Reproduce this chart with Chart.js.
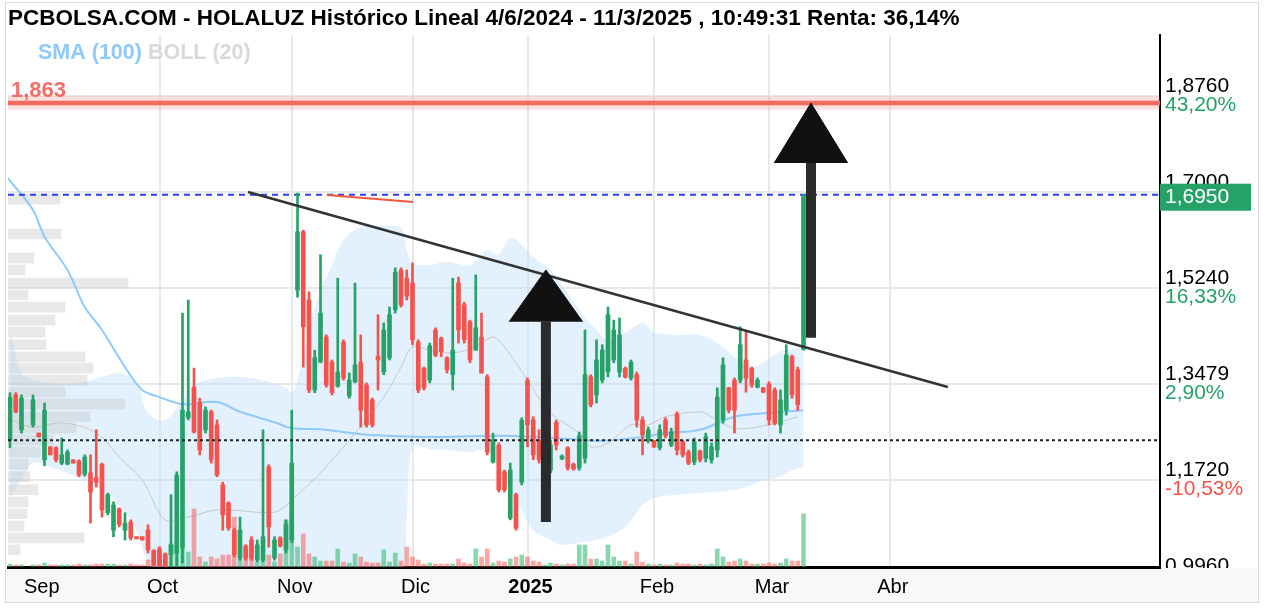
<!DOCTYPE html>
<html><head><meta charset="utf-8">
<script src="https://cdn.jsdelivr.net/npm/chart.js@4.4.1/dist/chart.umd.min.js"></script>
<style>html,body{margin:0;padding:0;background:#fff;}canvas{display:block;}</style>
</head><body>
<canvas id="c" width="1264" height="608"></canvas>
<script>
const FONT = '"Liberation Sans", Arial, Helvetica, sans-serif';
const UP = '#26a269', DOWN = '#f4524d';

const titleText = 'PCBOLSA.COM - HOLALUZ Histórico Lineal 4/6/2024 - 11/3/2025 , 10:49:31 Renta: 36,14%';
const legendText = ['SMA (100)', 'BOLL (20)'];
const monthPos = [5, 26, 49, 70, 90, 112, 132, 153];
const monthNames = ['Sep', 'Oct', 'Nov', 'Dic', '2025', 'Feb', 'Mar', 'Abr'];
const tickValues = [0.996, 1.172, 1.3479, 1.524, 1.700, 1.876];
const tickLabels = ['0,9960', '1,1720', '1,3479', '1,5240', '1,7000', '1,8760'];
const pctLabels = ['-23,97%', '-10,53%', '2,90%', '16,33%', '29,77%', '43,20%'];
const resistance = 1.863, resLabel = '1,863';
const blueLevel = 1.695;
const dotLevel = 1.245;
const lastLabel = '1,6950';

// trading-day index of each candle
const days = [0, 1, 2];
for (let d = 4; d <= 138; d++) days.push(d);

const open = [
1.245,1.328,1.264,1.273,1.258,1.209,1.233,1.231,1.203,1.201,
1.209,1.207,1.183,1.185,1.176,1.201,1.112,1.080,1.119,1.080,
1.095,1.068,1.068,1.080,1.042,1.044,1.035,1.035,1.038,1.049,
1.286,1.342,1.315,1.264,1.297,1.273,1.163,1.130,1.080,1.029,
1.049,1.062,1.025,1.025,1.196,1.029,1.066,1.044,1.062,1.520,
1.627,1.502,1.337,1.388,1.434,1.388,1.344,1.425,1.326,1.352,
1.388,1.346,1.319,1.399,1.370,1.396,1.484,1.557,1.542,1.533,
1.425,1.377,1.355,1.447,1.432,1.396,1.365,
1.533,
1.493,1.462,1.410,1.434,1.361,
1.205,1.236,1.187,1.102,1.145,1.168,1.355,1.282,1.245,
1.183,1.190,1.278,
1.211,1.231,1.201,1.194,1.212,1.361,1.328,1.355,1.370,1.392,
1.370,1.377,1.359,1.365,1.282,1.245,1.244,1.231,1.282,1.236,
1.293,1.242,1.223,1.205,1.225,1.212,1.209,1.227,
1.282,1.341,1.355,1.355,1.392,1.377,1.342,1.341,1.348,1.337,
1.273,1.300,1.398,1.374,1.412];
const high = [
1.332,1.332,1.328,1.328,1.258,1.313,1.233,1.233,1.249,1.227,
1.209,1.209,1.218,1.218,1.264,1.203,1.148,1.132,1.121,1.112,
1.099,1.068,1.068,1.090,1.044,1.049,1.038,1.145,1.187,1.478,
1.502,1.377,1.322,1.306,1.300,1.282,1.168,1.132,1.084,1.104,
1.053,1.068,1.062,1.264,1.200,1.068,1.068,1.099,1.300,1.698,
1.630,1.517,1.410,1.585,1.438,1.392,1.542,1.429,1.368,1.533,
1.438,1.350,1.322,1.475,1.460,1.489,1.561,1.561,1.557,1.570,
1.429,1.379,1.423,1.451,1.434,1.398,1.542,
1.544,
1.498,1.465,1.548,1.478,1.365,
1.258,1.240,1.190,1.203,1.148,1.286,1.359,1.288,1.264,
1.190,1.245,1.282,
1.218,1.233,1.203,1.260,1.447,1.365,1.429,1.420,1.489,1.465,
1.469,1.379,1.392,1.370,1.288,1.269,1.245,1.273,1.286,1.267,
1.297,1.245,1.227,1.249,1.227,1.258,1.240,1.341,
1.396,1.342,1.359,1.453,1.443,1.379,1.359,1.342,1.352,1.341,
1.337,1.420,1.401,1.379,1.695];
const low = [
1.231,1.295,1.258,1.269,1.251,1.198,1.218,1.205,1.200,1.200,
1.203,1.178,1.179,1.093,1.159,1.104,1.108,1.068,1.086,1.062,
1.062,1.064,1.062,1.038,1.007,1.007,1.007,1.013,1.013,1.020,
1.282,1.258,1.218,1.258,1.203,1.178,1.080,1.080,1.031,1.025,
1.025,1.025,1.022,1.022,1.049,1.025,1.049,1.038,1.057,1.507,
1.379,1.332,1.332,1.387,1.342,1.328,1.342,1.355,1.322,1.350,
1.269,1.269,1.269,1.337,1.365,1.392,1.478,1.489,1.502,1.420,
1.332,1.337,1.350,1.398,1.398,1.368,1.337,
1.423,
1.423,1.387,1.410,1.368,1.218,
1.203,1.150,1.150,1.099,1.080,1.163,1.233,1.209,1.203,
1.181,1.185,1.227,
1.209,1.190,1.190,1.190,1.203,1.306,1.313,1.350,1.361,1.387,
1.361,1.359,1.355,1.269,1.218,1.240,1.231,1.227,1.249,1.233,
1.218,1.214,1.200,1.200,1.205,1.205,1.203,1.214,
1.276,1.295,1.258,1.350,1.333,1.342,1.341,1.332,1.273,1.273,
1.258,1.291,1.322,1.300,1.410];
const close = [
1.324,1.297,1.322,1.319,1.251,1.300,1.218,1.209,1.218,1.223,
1.203,1.181,1.214,1.150,1.168,1.117,1.145,1.126,1.090,1.093,
1.066,1.064,1.062,1.044,1.016,1.011,1.011,1.053,1.181,1.300,
1.297,1.260,1.227,1.300,1.209,1.181,1.108,1.084,1.035,1.080,
1.029,1.029,1.053,1.068,1.086,1.062,1.051,1.090,1.203,1.627,
1.453,1.337,1.396,1.478,1.346,1.332,1.370,1.359,1.355,1.383,
1.300,1.273,1.273,1.392,1.447,1.475,1.553,1.493,1.509,1.429,
1.337,1.341,1.418,1.401,1.407,1.374,1.410,
1.447,
1.429,1.392,1.451,1.368,1.223,
1.245,1.154,1.154,1.190,1.084,1.282,1.273,1.218,1.209,
1.189,1.236,1.236,
1.216,1.194,1.192,1.253,1.365,1.310,1.392,1.410,1.475,1.447,
1.438,1.361,1.388,1.282,1.255,1.264,1.233,1.264,1.253,1.260,
1.227,1.218,1.203,1.242,1.209,1.251,1.233,1.324,
1.383,1.300,1.300,1.420,1.359,1.346,1.355,1.333,1.282,1.276,
1.319,1.401,1.328,1.310,1.695];
// volume (thousand shares)
const volume = [
12,8,8,8,8,16,8,8,8,8,
8,12,8,8,12,12,12,12,8,8,
12,8,8,28,68,80,56,92,100,100,
60,232,40,20,40,32,48,48,200,32,
88,88,20,32,48,20,52,188,212,80,
132,52,40,24,24,24,72,20,16,52,
40,20,16,16,68,20,56,24,80,40,
28,12,16,12,12,12,12,
32,
16,12,72,40,72,
16,24,20,32,40,48,40,24,20,
8,16,12,
8,12,12,88,88,32,32,24,88,40,
24,24,12,60,20,12,8,12,8,8,
16,12,12,8,12,8,12,72,
40,20,24,32,24,12,12,12,16,12,
16,32,24,24,212];

// Bollinger (20) samples
const bandIdx = [0,2,4,7,12,16,19,22,24,27,30,32,36,40,44,48,49,50,52,54,56,58,61,64,68,69,70,73,76,80,83,85,87,89,91,94,96,99,102,104,107,110,112,116,120,123,126,129,131,134,136,138];
const bollUpper = [1.447,1.368,1.355,1.350,1.350,1.361,1.368,1.350,1.295,1.282,1.319,1.346,1.359,1.361,1.355,1.341,1.332,1.355,1.447,1.520,1.566,1.612,1.636,1.638,1.634,1.594,1.570,1.566,1.572,1.566,1.594,1.585,1.616,1.603,1.581,1.557,1.530,1.484,1.447,1.429,1.442,1.460,1.443,1.438,1.438,1.423,1.398,1.379,1.388,1.407,1.412,1.414];
const bollLower = [1.141,1.172,1.203,1.196,1.176,1.154,1.126,1.080,1.020,0.989,0.961,0.943,0.934,0.930,0.934,0.943,0.947,0.952,0.956,0.961,0.967,0.970,0.974,0.980,0.998,1.099,1.233,1.229,1.227,1.223,1.227,1.190,1.154,1.117,1.080,1.062,1.053,1.057,1.062,1.068,1.086,1.126,1.139,1.145,1.148,1.150,1.154,1.163,1.172,1.178,1.190,1.196];
const midIdx = [0,4,9,15,19,23,27,31,36,45,47,50,54,59,65,68,70,73,77,81,84,86,90,94,99,101,104,108,111,114,120,122,126,132,137];
const bollMid = [1.282,1.269,1.277,1.258,1.214,1.172,1.099,1.104,1.117,1.112,1.117,1.145,1.185,1.245,1.324,1.379,1.416,1.410,1.405,1.416,1.434,1.416,1.355,1.295,1.258,1.233,1.240,1.273,1.273,1.288,1.297,1.288,1.267,1.273,1.288];
// SMA (100) samples
const smaIdx = [-0.35,4,6,10,13,16,20,23,26,30,36,40,46,49,54,62,74,85,91,97,103,110,114,120,126,132,138];
const sma100 = [1.725,1.667,1.618,1.557,1.489,1.447,1.379,1.337,1.324,1.311,1.315,1.297,1.278,1.267,1.265,1.255,1.251,1.253,1.251,1.247,1.244,1.251,1.258,1.264,1.288,1.295,1.300];
// volume at price profile
const profPrice = [1.687,1.623,1.579,1.557,1.533,1.511,1.489,1.465,1.443,1.420,1.398,1.377,1.355,1.333,1.311,1.288,1.267,1.245,1.223,1.201,1.178,1.154,1.132,1.110,1.088,1.066,1.044];
const profVol = [52,53,26,17,120,20,57,47,37,38,77,85,79,57,117,82,68,45,32,20,22,30,20,19,16,76,12];
// drawn lines / arrows (index, price)
const trendLine = [[41.4, 1.700], [163.1, 1.3425]];
const redSegment = [[55.1, 1.6945], [70.1, 1.6817]];
const arrowX = [93.2, 139.3];
const arrowFrom = [1.095, 1.433];
const arrowHeadBase = [1.462, 1.753];
const arrowTip = [1.557, 1.863];

const X_MIN = -0.348, X_MAX = 200;
const HEAD_HALF = 6.4;

const isUp = close.map((c, i) => c >= open[i]);
const cColor = isUp.map(u => u ? UP : DOWN);
const vColor = isUp.map(u => u ? 'rgba(46,180,110,0.55)' : 'rgba(244,82,77,0.5)');
const pts = (xs, ys) => xs.map((x, i) => ({x, y: ys[i]}));
const hline = v => [{x: X_MIN, y: v}, {x: X_MAX, y: v}];
const seg = s => s.map(p => ({x: p[0], y: p[1]}));

const datasets = [
  {type:'line', data: pts(bandIdx, bollUpper), borderWidth:0, borderColor:'rgba(0,0,0,0)', pointRadius:0, tension:0.35, fill:'+1', backgroundColor:'rgba(190,224,250,0.45)', order:20},
  {type:'line', data: pts(bandIdx, bollLower), borderWidth:0, borderColor:'rgba(0,0,0,0)', pointRadius:0, tension:0.35, fill:false, order:20},
  {type:'bar', indexAxis:'y', xAxisID:'xp', yAxisID:'y', data: profPrice.map((p, i) => ({y: p, x: profVol[i]})), backgroundColor:'rgba(200,200,200,0.42)', barThickness:10, grouped:false, order:19},
  {type:'line', data: pts(midIdx, bollMid), borderColor:'rgba(195,185,175,0.75)', borderWidth:1, pointRadius:0, tension:0.35, fill:false, order:18},
  {type:'line', data: pts(smaIdx, sma100), borderColor:'#90caf9', borderWidth:2, pointRadius:0, tension:0.35, fill:false, order:17},
  {type:'bar', xAxisID:'x', yAxisID:'yv', data: pts(days, volume), backgroundColor: vColor, barThickness:4, grouped:false, order:16},
  {type:'line', data: hline(blueLevel), borderColor:'#2b3df0', borderWidth:2, borderDash:[6,5], pointRadius:0, fill:false, order:15},
  {type:'bar', data: days.map((x, i) => ({x, y:[low[i], high[i]]})), backgroundColor: cColor, barThickness:2, grouped:false, order:12},
  {type:'bar', data: days.map((x, i) => ({x, y:[open[i], close[i]]})), backgroundColor: cColor, barThickness:4, minBarLength:1.5, grouped:false, order:11},
  {type:'line', data: hline(dotLevel), borderColor:'#222', borderWidth:2, borderDash:[3,3], pointRadius:0, fill:false, order:6},
  {type:'line', data: seg(trendLine), borderColor:'#333', borderWidth:2.5, pointRadius:0, fill:false, order:5},
  {type:'line', data: seg(redSegment), borderColor:'#f0583c', borderWidth:2, pointRadius:0, fill:false, order:5},
  {type:'line', data: hline(resistance), borderColor:'rgba(242,107,97,0.22)', borderWidth:13, pointRadius:0, fill:false, order:4},
  {type:'line', data: hline(resistance), borderColor:'#f26b61', borderWidth:4.5, pointRadius:0, fill:false, order:4}
];
arrowX.forEach((ax, k) => {
  datasets.push({type:'line', data:[{x:ax, y:arrowFrom[k]}, {x:ax, y:arrowHeadBase[k]}], borderColor:'#2b2b2b', borderWidth:10, borderCapStyle:'butt', pointRadius:0, fill:false, order:2});
  datasets.push({type:'line', data:[{x:ax-HEAD_HALF, y:arrowHeadBase[k]}, {x:ax, y:arrowTip[k]}, {x:ax+HEAD_HALF, y:arrowHeadBase[k]}], borderColor:'#111', borderWidth:1, pointRadius:0, tension:0, fill:{value: arrowHeadBase[k]}, backgroundColor:'#111', order:1});
});

const deco = {
  id: 'deco',
  beforeDraw(chart) {
    const c = chart.ctx;
    c.save();
    c.fillStyle = '#fff'; c.fillRect(0, 0, chart.width, chart.height);
    c.fillStyle = '#f8f8f8'; c.fillRect(5, 568, 1254, 35);
    c.restore();
  },
  afterDatasetsDraw(chart) {
    const c = chart.ctx, y = chart.scales.y, a = chart.chartArea;
    c.save();
    c.textBaseline = 'middle'; c.textAlign = 'left';
    c.font = 'bold 22px ' + FONT;
    c.fillStyle = 'rgba(240,95,85,0.9)';
    c.fillText(resLabel, a.left + 3, y.getPixelForValue(resistance) - 12);
    c.font = 'bold 21.5px ' + FONT;
    c.fillStyle = '#90caf9';
    c.fillText(legendText[0], 38, 53);
    const w = c.measureText(legendText[0] + ' ').width;
    c.fillStyle = '#d9d9d9';
    c.fillText(legendText[1], 38 + w, 53);
    c.restore();
  },
  afterDraw(chart) {
    const c = chart.ctx, y = chart.scales.y, a = chart.chartArea;
    c.save();
    c.textBaseline = 'middle'; c.textAlign = 'left';
    c.font = '21px ' + FONT;
    tickValues.forEach((v, i) => {
      c.fillStyle = pctLabels[i].startsWith('-') ? DOWN : UP;
      c.fillText(pctLabels[i], a.right + 5, y.getPixelForValue(v) + 9);
    });
    c.fillStyle = '#f8f8f8'; c.fillRect(a.right + 2, 568, 1259 - a.right - 2, 35);
    const py = y.getPixelForValue(blueLevel);
    c.fillStyle = '#26a269'; c.fillRect(a.right, py - 11, 91, 27);
    c.fillStyle = '#fff'; c.fillText(lastLabel, a.right + 5, py + 2);
    c.fillStyle = '#000'; c.font = 'bold 22.5px ' + FONT;
    c.fillText(titleText, 8, 19);
    c.strokeStyle = '#dcdcdc'; c.lineWidth = 1;
    c.strokeRect(5.5, 2.5, 1253, 600);
    c.restore();
  }
};

new Chart(document.getElementById('c'), {
  type: 'bar',
  data: { datasets },
  options: {
    responsive: false, animation: false, events: [],
    layout: { padding: { left: 8, top: 35, right: 0, bottom: 0 } },
    plugins: { legend: { display: false }, tooltip: { enabled: false }, title: { display: false } },
    scales: {
      x: {
        type: 'linear', min: X_MIN, max: X_MAX, offset: false,
        afterBuildTicks: s => { s.ticks = monthPos.map(v => ({value: v})); },
        afterFit: s => { s.height = 41; },
        ticks: {
          autoSkip: false, maxRotation: 0, padding: 8, color: '#000', labelOffset: 3,
          font: ctx => ({family: FONT, size: 20, weight: ctx.index === 4 ? 'bold' : 'normal'}),
          callback: (v, i) => monthNames[i]
        },
        grid: { offset: false, color: ctx => ctx.index === 0 ? 'rgba(0,0,0,0)' : '#e8e8e8', lineWidth: 2, drawTicks: false },
        border: { color: '#000', width: 3 }
      },
      y: {
        type: 'linear', position: 'right', min: 1.0125, max: 1.9878, offset: false,
        afterBuildTicks: s => { s.ticks = tickValues.map(v => ({value: v})); },
        afterFit: s => { s.width = 104; },
        ticks: { padding: 5, color: '#000', font: {family: FONT, size: 21}, labelOffset: -10, callback: (v, i) => tickLabels[i] },
        grid: { offset: false, color: ctx => (ctx.tick && ctx.tick.value < 1.0125) ? 'rgba(0,0,0,0)' : '#e8e8e8', lineWidth: 2, drawTicks: false },
        border: { color: '#000', width: 2 }
      },
      xp: { type: 'linear', axis: 'x', display: false, min: 0, max: 1152, offset: false, grid: { offset: false } },
      yv: { type: 'linear', axis: 'y', display: false, min: 0, max: 2128, offset: false }
    }
  },
  plugins: [deco]
});
</script>
</body></html>
